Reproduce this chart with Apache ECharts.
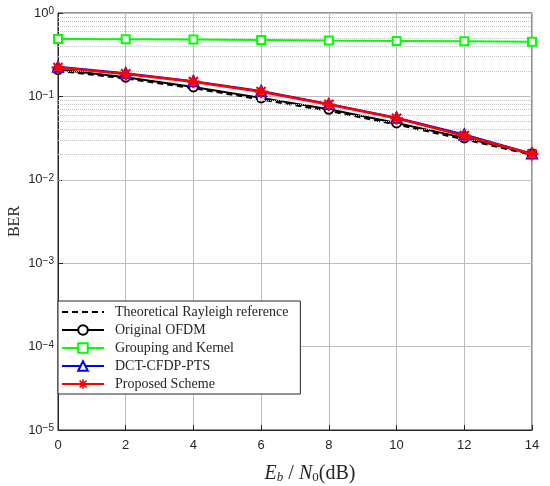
<!DOCTYPE html>
<html>
<head>
<meta charset="utf-8">
<script src="https://cdn.jsdelivr.net/npm/echarts@6/dist/echarts.min.js"></script>
<style>html,body{margin:0;padding:0;background:#fff}#c{width:550px;height:486px}</style>
</head>
<body>
<div id="c"></div>
<script>
var snr = [0, 2, 4, 6, 8, 10, 12, 14];
var theoretical = [0.203, 0.164, 0.125, 0.092, 0.067, 0.046, 0.0305, 0.0200];
var originalOFDM = [0.210, 0.170, 0.130, 0.096, 0.070, 0.048, 0.0318, 0.0205];
var groupingKernel = [0.488, 0.486, 0.482, 0.475, 0.467, 0.462, 0.457, 0.452];
var dctCfdpPts = [0.226, 0.190, 0.152, 0.116, 0.081, 0.0555, 0.0350, 0.0206];
var proposed = [0.222, 0.186, 0.150, 0.114, 0.080, 0.0546, 0.0338, 0.0204];
var minorGridValues = [];
[-5, -4, -3, -2, -1].forEach(function (d) {
  for (var k = 2; k <= 9; k++) minorGridValues.push(+(k * Math.pow(10, d)).toPrecision(3));
});

var asterisk = 'path://M0 8.3 L20 8.3 L20 11.7 L0 11.7 Z M8.3 0 L11.7 0 L11.7 20 L8.3 20 Z ' +
  'M4.13 1.73 L18.27 15.87 L15.87 18.27 L1.73 4.13 Z M15.87 1.73 L18.27 4.13 L4.13 18.27 L1.73 15.87 Z';

function pts(arr) { return snr.map(function (x, i) { return [x, arr[i]]; }); }

var chart = echarts.init(document.getElementById('c'));
var serif = '"Liberation Serif","Times New Roman",serif';
var sans = '"Liberation Sans",Arial,sans-serif';

chart.setOption({
  animation: false,
  backgroundColor: '#fff',
  grid: {
    left: 58, right: 18, top: 13, bottom: 56, containLabel: false, outerBoundsMode: 'none',
    show: true, borderColor: '#262626', borderWidth: 1, backgroundColor: 'transparent'
  },
  xAxis: {
    type: 'value', min: 0, max: 14, interval: 2,
    axisLine: { lineStyle: { color: '#262626' } },
    axisTick: { inside: true, length: 5, lineStyle: { color: '#262626' } },
    axisLabel: { color: '#262626', fontFamily: sans, fontSize: 13, margin: 9 },
    splitLine: { show: true, lineStyle: { color: '#bdbdbd', width: 1 } },
    name: '{i|E}{si|b}{n| / }{i|N}{s|0}{n|(dB)}',
    nameLocation: 'middle', nameGap: 34, nameMoveOverlap: false,
    nameTextStyle: {
      padding: [0, 0, 0, 30],
      rich: {
        i: { fontFamily: serif, fontStyle: 'italic', fontSize: 20, color: '#262626', lineHeight: 20, verticalAlign: 'top' },
        si: { fontFamily: serif, fontStyle: 'italic', fontSize: 13, color: '#262626', lineHeight: 13, verticalAlign: 'bottom' },
        s: { fontFamily: serif, fontSize: 13, color: '#262626', lineHeight: 13, verticalAlign: 'bottom' },
        n: { fontFamily: serif, fontSize: 20, color: '#262626', lineHeight: 20, verticalAlign: 'top', padding: [0, 0, 4, 0] }
      }
    }
  },
  yAxis: {
    type: 'log', logBase: 10, min: 1e-5, max: 1,
    axisLine: { lineStyle: { color: '#262626' } },
    axisTick: { inside: true, length: 5, lineStyle: { color: '#262626' } },
    axisLabel: {
      margin: 4,
      formatter: function (v) {
        var e = Math.round(Math.log10(v));
        return '{b|10}{e|' + (e < 0 ? '\u2212' + (-e) : e) + '}';
      },
      rich: {
        b: { fontFamily: sans, fontSize: 13, lineHeight: 13, color: '#262626', verticalAlign: 'bottom', padding: [3, 0, 0, 0] },
        e: { fontFamily: sans, fontSize: 10, lineHeight: 10, color: '#262626', verticalAlign: 'top' }
      }
    },
    splitLine: { show: true, lineStyle: { color: '#bdbdbd', width: 1 } },
    name: 'BER', nameLocation: 'middle', nameGap: 35, nameMoveOverlap: false,
    nameTextStyle: { fontFamily: serif, fontSize: 16, color: '#262626' }
  },
  legend: {
    orient: 'vertical', left: 58, top: 301,
    itemWidth: 42, itemHeight: 12, itemGap: 4,
    padding: [4, 12, 3, 3],
    backgroundColor: '#fff', borderColor: '#262626', borderWidth: 1,
    textStyle: { fontFamily: serif, fontSize: 14, color: '#262626', padding: [0, 0, 0, 6] },
    data: [
      { name: 'Theoretical Rayleigh reference', itemStyle: { opacity: 0 } },
      'Original OFDM', 'Grouping and Kernel', 'DCT-CFDP-PTS', 'Proposed Scheme'
    ]
  },
  series: [
    {
      name: 'minor', type: 'line', data: [], silent: true, legendHoverLink: false,
      markLine: {
        silent: true, symbol: 'none', label: { show: false }, animation: false,
        lineStyle: { color: '#c4c4c4', type: 'dotted', width: 1 },
        data: minorGridValues.map(function (v) { return { yAxis: v }; })
      }
    },
    {
      name: 'Theoretical Rayleigh reference', type: 'line', data: pts(theoretical),
      symbol: 'none', lineStyle: { color: '#000', width: 2, type: [6, 4] }, itemStyle: { color: '#000' }, z: 3
    },
    {
      name: 'Original OFDM', type: 'line', data: pts(originalOFDM),
      symbol: 'circle', symbolSize: 9,
      lineStyle: { color: '#000', width: 2 }, itemStyle: { color: '#fff', borderColor: '#000', borderWidth: 2 }, z: 4
    },
    {
      name: 'Grouping and Kernel', type: 'line', data: pts(groupingKernel),
      symbol: 'rect', symbolSize: 8,
      lineStyle: { color: '#00ff00', width: 2 }, itemStyle: { color: '#fff', borderColor: '#00ff00', borderWidth: 2 }, z: 5
    },
    {
      name: 'DCT-CFDP-PTS', type: 'line', data: pts(dctCfdpPts),
      symbol: 'triangle', symbolSize: 10,
      lineStyle: { color: '#0000ff', width: 2 }, itemStyle: { color: '#fff', borderColor: '#0000ff', borderWidth: 2 }, z: 6
    },
    {
      name: 'Proposed Scheme', type: 'line', data: pts(proposed),
      symbol: asterisk, symbolSize: 13,
      lineStyle: { color: '#ff0000', width: 2.5 }, itemStyle: { color: '#ff0000' }, z: 7
    }
  ]
});
</script>
</body>
</html>
